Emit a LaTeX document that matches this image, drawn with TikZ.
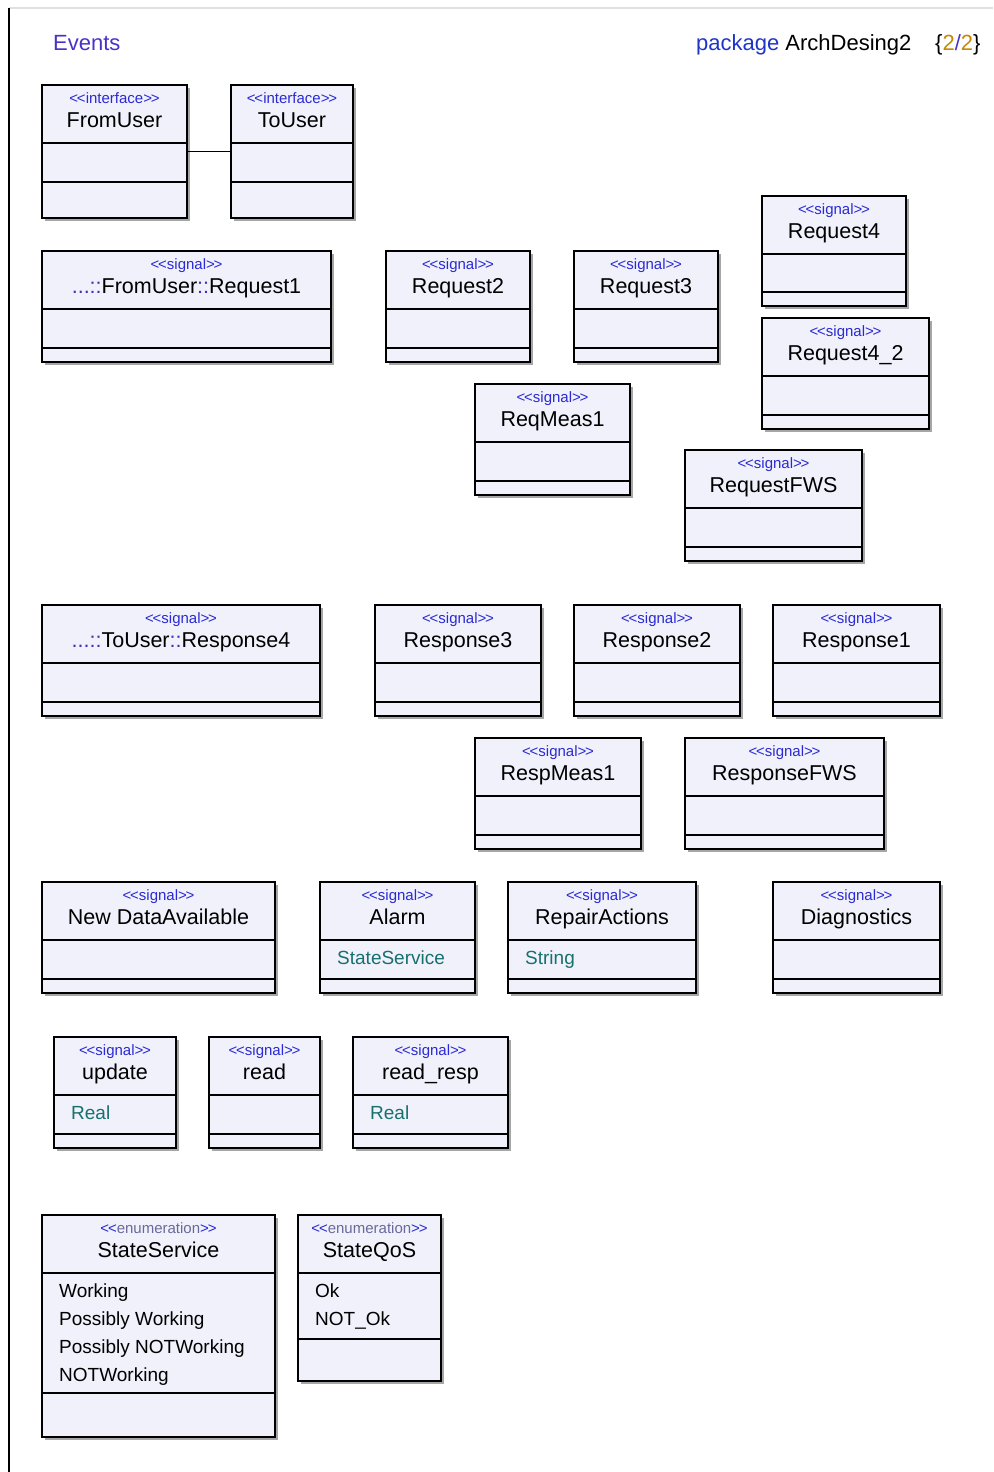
\documentclass[tikz,border=0pt]{standalone}
\usepackage{fontspec}
\setmainfont{Liberation Sans}
\usepackage{xcolor}
\usepackage{tikz}
\usetikzlibrary{shadows}
\definecolor{boxfill}{HTML}{F1F1FC}
\definecolor{stereoc}{HTML}{2A2AD4}
\definecolor{prefixc}{HTML}{4030B8}
\definecolor{eventc}{HTML}{4A32C8}
\definecolor{pkgc}{HTML}{1F35C8}
\definecolor{typec}{HTML}{17706E}
\definecolor{pagec}{HTML}{C68A00}
\definecolor{enumc}{HTML}{6A6A9A}

% name, x, y, width, attr height, ops height, stereotype, title
\newcommand{\umlclass}[8]{%
  \node[clsbox,minimum width=#4pt,minimum height={(58+#5+#6)*1pt}] (#1) at (#2,#3) {};
  \draw[sep] ([yshift=-58pt]#1.north west) -- ([yshift=-58pt]#1.north east);
  \draw[sep] ([yshift={-(58+#5)*1pt}]#1.north west) -- ([yshift={-(58+#5)*1pt}]#1.north east);
  \node[stereo] (#1-st) at ([yshift=-18pt]#1.north) {#7};
  \node[title] (#1-nm) at ([yshift=-42pt]#1.north) {#8};
}
% box, style, lines
\newcommand{\umlattrs}[3]{%
  \foreach \t [count=\i] in {#3}
    \node[attr,#2] (#1-a\i) at ([xshift=17pt,yshift={-(54+28*\i)*1pt}]#1.north west) {\t};
}
\newcommand{\stl}{<\kern-1.2pt<}
\newcommand{\stg}{>\kern-1.2pt>}
\newcommand{\sig}{\stl signal\stg}
\newcommand{\enm}{\stl{\color{enumc}enumeration}\stg}
\newcommand{\pfx}{{\color{prefixc}...::}}
\newcommand{\dcol}{{\color{prefixc}::}}

\begin{document}
\begin{tikzpicture}[x=1pt,y=-1pt,
  clsbox/.style={draw=black,line width=2.3pt,fill=boxfill,anchor=north west,inner sep=0pt,outer sep=0pt,
    drop shadow={shadow xshift=2.5pt,shadow yshift=-2.5pt,fill=black!35,opacity=1}},
  sep/.style={line width=2pt},
  stereo/.style={anchor=base,inner sep=0pt,text=stereoc,font=\fontsize{15}{15}\selectfont},
  title/.style={anchor=base,inner sep=0pt,font=\fontsize{21.5}{22}\selectfont},
  attr/.style={anchor=base west,inner sep=0pt,font=\fontsize{19}{20}\selectfont},
  typ/.style={text=typec},
  lit/.style={text=black}]
\useasboundingbox[fill=white] (0,0) rectangle (993,1472);
\coordinate (fr-tl) at (9,8);
\coordinate (fr-tr) at (993,8);
\coordinate (fr-bl) at (9,1472);
\draw[black!12,line width=1.2pt] (fr-tl) -- (fr-tr);
\draw[line width=1.4pt] (fr-tl) -- (fr-bl);

\node[anchor=base west,inner sep=0pt,text=eventc,font=\fontsize{22}{22}\selectfont] (events) at (53,51) {Events};
\node[anchor=base west,inner sep=0pt,font=\fontsize{22}{22}\selectfont] (pkg) at (696,51) {{\color{pkgc}package} ArchDesing2};
\node[anchor=base west,inner sep=0pt,font=\fontsize{22}{22}\selectfont] (pagenr) at (935,51) {\{{\color{pagec}2}{\color{eventc}/}{\color{pagec}2}\}};

% interfaces
\umlclass{fu}{42}{85}{145}{39}{36}{\stl interface\stg}{FromUser}
\umlclass{tu}{231}{85}{122}{39}{36}{\stl interface\stg}{ToUser}
\draw[line width=1pt] ([yshift=-66pt]fu.north east) -- ([yshift=-66pt]tu.north west);

% requests
\umlclass{rq1}{42}{251}{289}{39}{14}{\sig}{\pfx FromUser\dcol Request1}
\umlclass{rq2}{386}{251}{144}{39}{14}{\sig}{Request2}
\umlclass{rq3}{574}{251}{144}{39}{14}{\sig}{Request3}
\umlclass{rq4}{762}{196}{144}{38}{14}{\sig}{Request4}
\umlclass{rq42}{762}{318}{167}{39}{14}{\sig}{Request4\_2}
\umlclass{rqm}{475}{384}{155}{39}{14}{\sig}{ReqMeas1}
\umlclass{rqf}{685}{450}{177}{39}{14}{\sig}{RequestFWS}

% responses
\umlclass{rs4}{42}{605}{278}{39}{14}{\sig}{\pfx ToUser\dcol Response4}
\umlclass{rs3}{375}{605}{166}{39}{14}{\sig}{Response3}
\umlclass{rs2}{574}{605}{166}{39}{14}{\sig}{Response2}
\umlclass{rs1}{773}{605}{167}{39}{14}{\sig}{Response1}
\umlclass{rsm}{475}{738}{166}{39}{14}{\sig}{RespMeas1}
\umlclass{rsf}{685}{738}{199}{39}{14}{\sig}{ResponseFWS}

% other signals
\umlclass{nda}{42}{882}{233}{39}{14}{\sig}{New DataAvailable}
\umlclass{alm}{320}{882}{155}{39}{14}{\sig}{Alarm}
\umlattrs{alm}{typ}{StateService}
\umlclass{rpa}{508}{882}{188}{39}{14}{\sig}{RepairActions}
\umlattrs{rpa}{typ}{String}
\umlclass{dia}{773}{882}{167}{39}{14}{\sig}{Diagnostics}
\umlclass{upd}{54}{1037}{122}{39}{14}{\sig}{update}
\umlattrs{upd}{typ}{Real}
\umlclass{rd}{209}{1037}{111}{39}{14}{\sig}{read}
\umlclass{rdr}{353}{1037}{155}{39}{14}{\sig}{read\_resp}
\umlattrs{rdr}{typ}{Real}

% enumerations
\umlclass{sts}{42}{1215}{233}{120}{44}{\enm}{StateService}
\umlattrs{sts}{lit}{Working,Possibly Working,Possibly NOTWorking,NOTWorking}
\umlclass{sqs}{298}{1215}{143}{66}{42}{\enm}{StateQoS}
\umlattrs{sqs}{lit}{Ok,NOT\_Ok}
\end{tikzpicture}
\end{document}
